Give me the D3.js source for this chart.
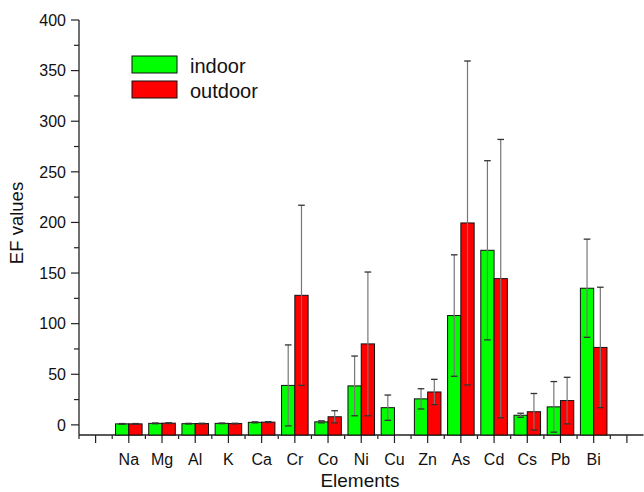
<!DOCTYPE html>
<meta charset="utf-8">
<html>
<head>
<title>EF values indoor / outdoor</title>
<script src="https://d3js.org/d3.v7.min.js"></script>
<style type="text/css">
body { margin: 0; background: #fff; }
text { font-family: "Liberation Sans", Arial, sans-serif; fill: #111; }
</style>
</head>
<body>
<div id="chart"></div>

<script type="text/javascript">

// data
var elements = ["Na", "Mg", "Al", "K", "Ca", "Cr", "Co", "Ni", "Cu", "Zn", "As", "Cd", "Cs", "Pb", "Bi"];
var indoor    = [1.0, 1.5, 1.2, 1.5, 2.5, 39, 3, 38.5, 17, 25.7, 108, 172.5, 9.5, 17.8, 135];
var indoorErr = [0.3, 0.4, 0.3, 0.3, 0.5, 40, 1, 29.5, 12.5, 10, 60, 88.5, 2, 25, 48.5];
var outdoor    = [1.0, 1.7, 1.3, 1.3, 2.7, 128, 8, 80, null, 32.5, 199.5, 144.5, 13, 24, 76.5];
var outdoorErr = [0.3, 0.4, 0.3, 0.3, 0.5, 89, 6, 71, null, 12.5, 160, 137.5, 18, 23, 59.5];
var yTicks = [0, 50, 100, 150, 200, 250, 300, 350, 400];
var series = ["indoor", "outdoor"];
var colors = ["#00ff00", "#ff0000"];

var W = 644, H = 492;
var svg = d3.select("#chart").append("svg")
  .attr("width", W)
  .attr("height", H);

// x is a numeric position axis: one empty slot each side of the elements
var x = d3.scaleLinear().domain([-0.5, elements.length + 1.5]).range([79, 643.5]);
var y = d3.scaleLinear().domain([-10, 400]).range([435, 20]);
var barW = 0.4; // in x units

// y axis
var yAxis = svg.append("g").attr("transform", "translate(" + x(-0.5) + ",0)");
yAxis.append("line")
  .attr("y1", y(-10)).attr("y2", y(400))
  .attr("stroke", "#222").attr("stroke-width", 1.3);
yAxis.selectAll(".minor").data(d3.range(25, 400, 50)).enter().append("line")
  .attr("x1", -5).attr("x2", 0)
  .attr("y1", function(d) { return y(d); }).attr("y2", function(d) { return y(d); })
  .attr("stroke", "#222").attr("stroke-width", 1.2);
yAxis.selectAll(".major").data(yTicks).enter().append("line")
  .attr("x1", -8).attr("x2", 0)
  .attr("y1", function(d) { return y(d); }).attr("y2", function(d) { return y(d); })
  .attr("stroke", "#222").attr("stroke-width", 1.2);
yAxis.selectAll(".lab").data(yTicks).enter().append("text")
  .attr("x", -13).attr("y", function(d) { return y(d); })
  .attr("dy", "0.36em")
  .attr("text-anchor", "end")
  .style("font-size", "16px")
  .text(function(d) { return d; });

// x axis
var positions = d3.range(0, elements.length + 2);
var xAxis = svg.append("g").attr("transform", "translate(0," + y(-10) + ")");
xAxis.append("line")
  .attr("x1", x(-0.5)).attr("x2", x(elements.length + 1.5))
  .attr("stroke", "#222").attr("stroke-width", 1.3);
xAxis.selectAll(".major").data(positions).enter().append("line")
  .attr("x1", function(d) { return x(d); }).attr("x2", function(d) { return x(d); })
  .attr("y1", 0).attr("y2", 8)
  .attr("stroke", "#222").attr("stroke-width", 1.2);
xAxis.selectAll(".minor").data(positions.map(function(d) { return d - 0.5; })).enter().append("line")
  .attr("x1", function(d) { return x(d); }).attr("x2", function(d) { return x(d); })
  .attr("y1", 0).attr("y2", 4)
  .attr("stroke", "#222").attr("stroke-width", 1.2);
xAxis.selectAll(".lab").data(elements).enter().append("text")
  .attr("x", function(d, i) { return x(i + 1); })
  .attr("y", 30)
  .attr("text-anchor", "middle")
  .style("font-size", "16px")
  .text(function(d) { return d; });

// axis titles
svg.append("text")
  .attr("x", 360).attr("y", 487)
  .attr("text-anchor", "middle")
  .style("font-size", "19px")
  .text("Elements");
svg.append("text")
  .attr("transform", "translate(23,223) rotate(-90)")
  .attr("text-anchor", "middle")
  .style("font-size", "18.5px")
  .text("EF values");

// bars + error bars
var rows = [];
elements.forEach(function(el, i) {
  rows.push({ pos: i + 1, off: -barW, v: indoor[i], e: indoorErr[i], c: colors[0] });
  rows.push({ pos: i + 1, off: 0, v: outdoor[i], e: outdoorErr[i], c: colors[1] });
});
rows = rows.filter(function(d) { return d.v != null; });

svg.selectAll(".bar").data(rows).enter().append("rect")
  .attr("x", function(d) { return x(d.pos + d.off); })
  .attr("width", function(d) { return x(d.pos + d.off + barW) - x(d.pos + d.off); })
  .attr("y", function(d) { return y(d.v); })
  .attr("height", function(d) { return y(-10) - y(d.v); })
  .attr("fill", function(d) { return d.c; })
  .attr("stroke", "#111").attr("stroke-width", 1);

var err = svg.selectAll(".err").data(rows).enter().append("g");
err.append("line")
  .attr("x1", function(d) { return x(d.pos + d.off + barW / 2); })
  .attr("x2", function(d) { return x(d.pos + d.off + barW / 2); })
  .attr("y1", function(d) { return y(d.v - d.e); })
  .attr("y2", function(d) { return y(d.v + d.e); })
  .attr("stroke", "#777").attr("stroke-width", 1.2);
[-1, 1].forEach(function(s) {
  err.append("line")
    .attr("x1", function(d) { return x(d.pos + d.off + barW / 2 - 0.1); })
    .attr("x2", function(d) { return x(d.pos + d.off + barW / 2 + 0.1); })
    .attr("y1", function(d) { return y(d.v + s * d.e); })
    .attr("y2", function(d) { return y(d.v + s * d.e); })
    .attr("stroke", "#333").attr("stroke-width", 1.3);
});

// legend
var legend = svg.selectAll(".legend").data(series).enter().append("g")
  .attr("transform", function(d, i) { return "translate(132," + (56 + i * 25) + ")"; });
legend.append("rect")
  .attr("width", 45).attr("height", 17)
  .attr("fill", function(d, i) { return colors[i]; })
  .attr("stroke", "#111").attr("stroke-width", 1);
legend.append("text")
  .attr("x", 58).attr("y", 16.5)
  .style("font-size", "20px")
  .text(function(d) { return d; });

</script>
</body>
</html>
